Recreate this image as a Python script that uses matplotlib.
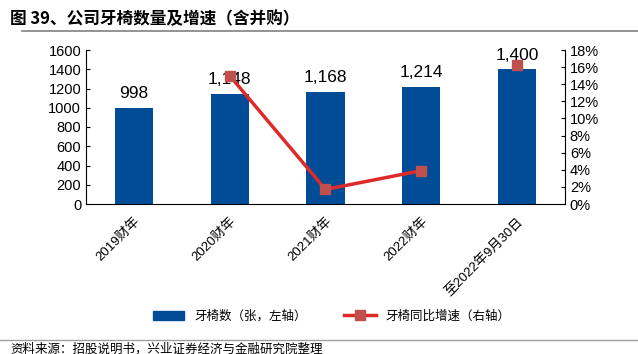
import matplotlib.pyplot as plt
from matplotlib.ticker import FuncFormatter
from matplotlib.lines import Line2D
from matplotlib.patches import Patch

plt.rcParams['font.family'] = ['Liberation Sans', 'Noto Sans CJK SC', 'DejaVu Sans']

# data
categories = ['2019财年', '2020财年', '2021财年', '2022财年', '至2022年9月30日']
chairs = [998, 1148, 1168, 1214, 1400]
growth_x = [1, 2, 3, 4]
growth = [15.0, 1.7, 3.9, 16.2]

bar_color = '#004C97'
line_color = '#E02A2A'
marker_color = '#C0504D'

fig = plt.figure(figsize=(6.38, 3.54), dpi=100)
ax = fig.add_axes([86/638, 1 - 204/354, 479/638, 154/354])
ax2 = ax.twinx()

x = list(range(len(categories)))
ax.bar(x, chairs, width=0.4, color=bar_color, zorder=2)
for xi, v in zip(x, chairs):
    ax.text(xi, v + 70, f'{v:,}', ha='center', va='bottom', fontsize=12.5, zorder=5)

ax.set_xlim(-0.5, 4.5)
ax.set_ylim(0, 1600)
ax.set_yticks(range(0, 1601, 200))
ax.set_xticks(x)
ax.set_xticklabels(categories, rotation=45, ha='right', rotation_mode='anchor',
                   fontsize=9.5, family=['Liberation Sans', 'Noto Sans CJK SC'])
ax.tick_params(axis='x', length=0, pad=8)
ax.tick_params(axis='y', labelsize=10.5, direction='in', length=3)
for s in ['top', 'right']:
    ax.spines[s].set_visible(False)

# the last point (partial year) stands alone, not joined to the line
ax2.plot(growth_x[:3], growth[:3], color=line_color, lw=2.5, marker='s', ms=7,
         mfc=marker_color, mec=marker_color, zorder=4)
ax2.plot(growth_x[3:], growth[3:], ls='none', marker='s', ms=7,
         mfc=marker_color, mec=marker_color, zorder=4)
ax2.set_ylim(0, 18)
ax2.set_yticks(range(0, 19, 2))
ax2.yaxis.set_major_formatter(FuncFormatter(lambda v, p: f'{int(v)}%'))
ax2.tick_params(axis='y', labelsize=10.5, direction='in', length=3)
for s in ['top', 'left', 'bottom']:
    ax2.spines[s].set_visible(False)

# title and rules
fig.text(10/638, 1 - 19/354, '图 39、公司牙椅数量及增速（含并购）', fontsize=12, fontweight='bold',
         va='center', family=['Noto Sans CJK SC'])
fig.add_artist(Line2D([22/638, 1], [1 - 31/354] * 2, color='#808080', lw=1.2))
fig.add_artist(Line2D([0, 1], [1 - 340/354] * 2, color='#A0A0A0', lw=1))
fig.text(10/638, 1 - 349/354, '资料来源：招股说明书，兴业证券经济与金融研究院整理', fontsize=9,
         va='center', family=['Noto Sans CJK SC'])

handles = [Patch(color=bar_color),
           Line2D([], [], color=line_color, lw=2.5, marker='s', ms=7,
                  mfc=marker_color, mec=marker_color)]
fig.legend(handles, ['牙椅数（张，左轴）', '牙椅同比增速（右轴）'], loc='center',
           bbox_to_anchor=(0.52, 1 - 316/354), ncol=2, frameon=False,
           columnspacing=3, handlelength=2.5,
           prop={'family': ['Noto Sans CJK SC'], 'size': 9})

fig.savefig('out.png', dpi=100)
